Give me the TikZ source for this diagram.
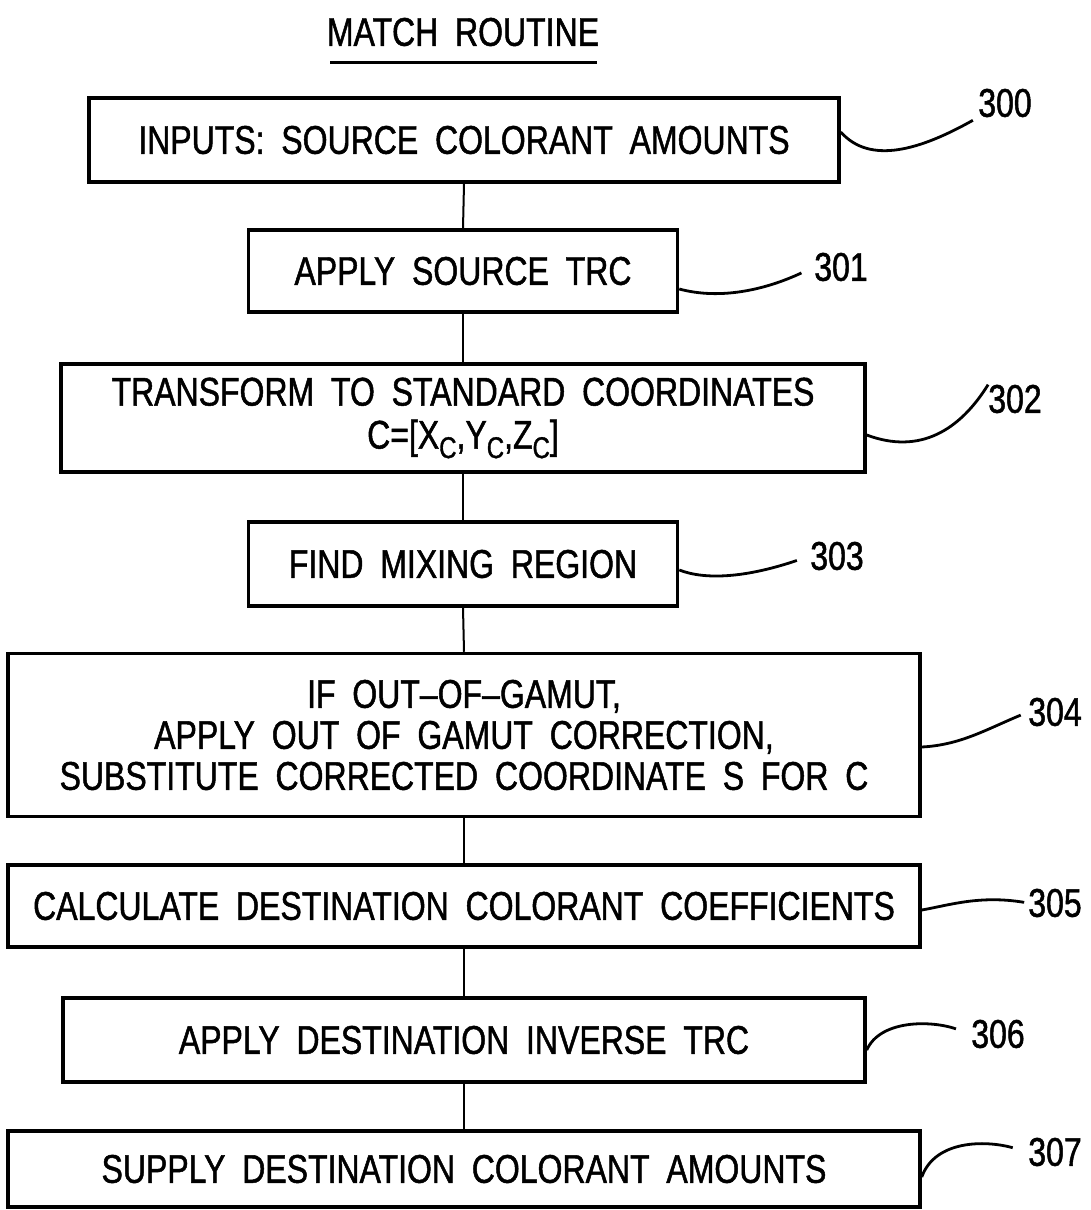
\documentclass[tikz,border=0pt]{standalone}
\usepackage{fontspec}
\setmainfont[FakeStretch=0.8,FakeBold=1.2]{Liberation Sans}
\begin{document}
\begin{tikzpicture}[x=1pt,y=-1pt,
  box/.style={draw,line width=3.5pt,align=center,inner sep=0pt,font=\fontsize{40}{44}\selectfont},
  lead/.style={line width=2.8pt},
  num/.style={font=\fontsize{40}{44}\selectfont,inner sep=0pt},
  conn/.style={line width=2pt}]
\useasboundingbox (0,0) rectangle (1090,1210);
\newcommand{\wsp}{\hspace{0.42em}}
\newcommand{\subC}{\raisebox{-0.45ex}{\fontsize{30}{30}\selectfont C}}
\node[font=\fontsize{40}{44}\selectfont,inner sep=0pt] (title) at (463,32) {MATCH\wsp ROUTINE};
\coordinate (ul1) at (330,62); \coordinate (ul2) at (597,62);
\draw[line width=3pt] (ul1) -- (ul2);

\node[box,minimum width=750,minimum height=84] (b300) at (464,140) {INPUTS:\wsp SOURCE\wsp COLORANT\wsp AMOUNTS};
\node[box,minimum width=429,minimum height=82] (b301) at (463,271) {APPLY\wsp SOURCE\wsp TRC};
\node[box,minimum width=804,minimum height=108,font=\fontsize{40}{44}\selectfont] (b302) at (463,418) {TRANSFORM\wsp TO\wsp STANDARD\wsp COORDINATES\\[-1pt] C=[X\subC,Y\subC,Z\subC]};
\node[box,minimum width=429,minimum height=84] (b303) at (463,564) {FIND\wsp MIXING\wsp REGION};
\node[box,minimum width=912,minimum height=163,font=\fontsize{40}{41}\selectfont] (b304) at (464,735) {IF\wsp OUT--OF--GAMUT,\\ APPLY\wsp OUT\wsp OF\wsp GAMUT\wsp CORRECTION,\\ SUBSTITUTE\wsp CORRECTED\wsp COORDINATE\wsp S\wsp FOR\wsp C};
\node[box,minimum width=912,minimum height=82] (b305) at (464,906) {CALCULATE\wsp DESTINATION\wsp COLORANT\wsp COEFFICIENTS};
\node[box,minimum width=802,minimum height=84] (b306) at (464,1040) {APPLY\wsp DESTINATION\wsp INVERSE\wsp TRC};
\node[box,minimum width=912,minimum height=76] (b307) at (464,1169) {SUPPLY\wsp DESTINATION\wsp COLORANT\wsp AMOUNTS};

\foreach \a/\b in {b300/b301,b301/b302,b302/b303,b303/b304,b304/b305,b305/b306,b306/b307}
  \draw[conn] (\a.south) -- (\b.north);

\node[num] (n300) at (1005,103) {300};
\node[num] (n301) at (841,267) {301};
\node[num] (n302) at (1015,399) {302};
\node[num] (n303) at (837,556) {303};
\node[num] (n304) at (1055,712) {304};
\node[num] (n305) at (1055,903) {305};
\node[num] (n306) at (998,1034) {306};
\node[num] (n307) at (1055,1152) {307};

\draw[lead,shorten >=6pt] (b300.east) ++(0,-8) .. controls (870,165) and (920,150) .. (n300.south west);
\draw[lead,shorten >=14pt] (b301.east) ++(0,18) .. controls (720,300) and (765,290) .. (n301.west);
\draw[lead] (b302.east) ++(0,17) .. controls (920,455) and (960,430) .. (n302.north west);
\draw[lead,shorten >=14pt] (b303.east) ++(0,6) .. controls (705,580) and (745,578) .. (n303.west);
\draw[lead,shorten >=8pt] (b304.east) ++(0,12) .. controls (960,745) and (985,730) .. (n304.west);
\draw[lead,shorten >=4pt] (b305.east) ++(0,4) .. controls (950,905) and (980,895) .. (n305.west);
\draw[lead,shorten >=16pt] (b306.east) ++(0,10) .. controls (880,1020) and (930,1020) .. (n306.west);
\draw[lead,shorten >=16pt] (b307.east) ++(0,8) .. controls (935,1140) and (985,1140) .. (n307.west);
\end{tikzpicture}
\end{document}
